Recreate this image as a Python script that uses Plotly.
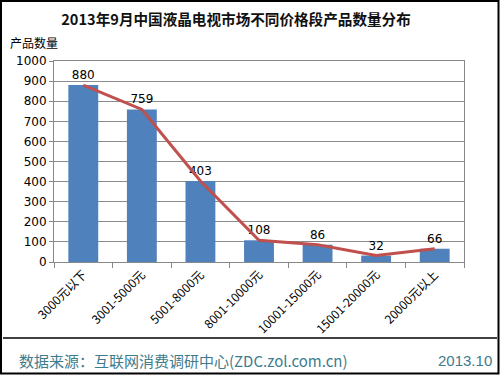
import plotly.graph_objects as go

categories = ["3000元以下", "3001-5000元", "5001-8000元", "8001-10000元",
              "10001-15000元", "15001-20000元", "20000元以上"]
counts = [880, 759, 403, 108, 86, 32, 66]

W, H = 500, 375
L, R, T, B = 54, 36, 61, 113
pw, ph = W - L - R, H - T - B

def px(x):
    return (x - L) / pw

def py(y):
    return (H - B - y) / ph

fig = go.Figure()
fig.add_trace(go.Bar(
    x=categories, y=counts,
    marker=dict(color="#4F81BD", line=dict(width=0)),
    text=[str(v) for v in counts], textposition="outside",
    textfont=dict(size=12, color="#000000", family="DejaVu Sans"),
    cliponaxis=False,
))
fig.add_trace(go.Scatter(
    x=categories, y=counts, mode="lines",
    line=dict(color="#C0504D", width=3),
))

fig.update_layout(
    width=W, height=H,
    margin=dict(l=L, r=R, t=T, b=B, autoexpand=False),
    paper_bgcolor="white", plot_bgcolor="white",
    showlegend=False, bargap=0.49,
    font=dict(family="Noto Sans CJK SC", color="#000000"),
    title=dict(text="<b>2013年9月中国液晶电视市场不同价格段产品数量分布</b>",
               x=0.472, xanchor="center", y=1 - 20 / H, yanchor="middle",
               font=dict(size=14.6, family="Noto Sans CJK SC", color="#111111")),
    xaxis=dict(
        type="category", tickangle=-45, tickson="boundaries",
        ticks="outside", ticklen=5, tickcolor="#888888",
        showline=True, linecolor="#888888", linewidth=1, mirror=True,
        showgrid=False, automargin=False,
        tickfont=dict(size=12, family="Noto Sans CJK SC", color="#000000"),
    ),
    yaxis=dict(
        range=[0, 1000], dtick=100,
        ticks="outside", ticklen=4, tickcolor="#888888",
        showline=True, linecolor="#888888", linewidth=1, mirror=True,
        showgrid=True, gridcolor="#8c8c8c", gridwidth=1,
        tickfont=dict(size=12, family="DejaVu Sans", color="#000000"),
        zeroline=False, automargin=False,
    ),
)

fig.add_annotation(text="产品数量", xref="paper", yref="paper",
                   x=px(8), y=py(42), xanchor="left", yanchor="middle",
                   showarrow=False,
                   font=dict(size=12, family="Noto Sans CJK SC", color="#000000"))
fig.add_annotation(text="数据来源：互联网消费调研中心(ZDC.zol.com.cn)",
                   xref="paper", yref="paper",
                   x=px(17), y=py(360), xanchor="left", yanchor="middle",
                   showarrow=False,
                   font=dict(size=15, family="Noto Sans CJK SC", color="#3E7B8C"))
fig.add_annotation(text="2013.10", xref="paper", yref="paper",
                   x=px(494), y=py(360), xanchor="right", yanchor="middle",
                   showarrow=False,
                   font=dict(size=15, family="Liberation Sans", color="#3E7B8C"))

fig.add_shape(type="line", xref="paper", yref="paper",
              x0=px(3), x1=px(497), y0=py(338), y1=py(338),
              line=dict(color="#000000", width=1.5))
fig.add_shape(type="rect", xref="paper", yref="paper",
              x0=px(1), x1=px(498.5), y0=py(373.5), y1=py(1),
              line=dict(color="#000000", width=2))

fig.write_html("out.html", config={"displayModeBar": False},
               post_script="document.body.style.margin='0px';document.body.style.padding='0px';")
